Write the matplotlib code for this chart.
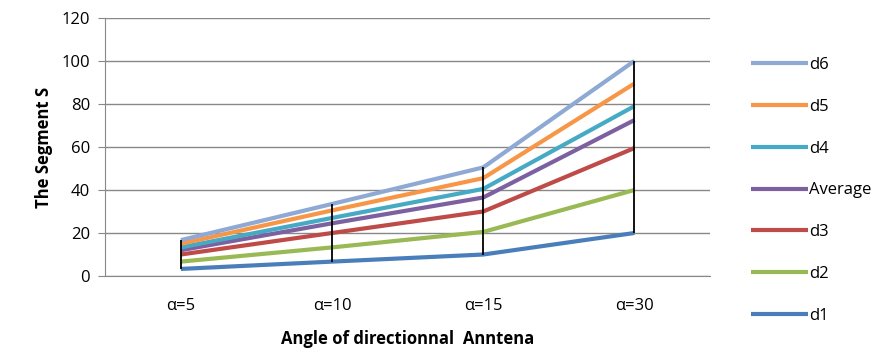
import matplotlib.pyplot as plt

# Данные
categories = ['α=5', 'α=10', 'α=15', 'α=30']
d1 = [3.3, 6.7, 10, 20]
d2 = [6.7, 13.3, 20.5, 40]
d3 = [10, 20, 30, 59.5]
average = [12, 24.5, 36.5, 72.5]
d4 = [13.3, 27, 40.5, 79]
d5 = [15, 30.5, 45.5, 89.5]
d6 = [16.7, 33.5, 50.5, 100]

series = [
    ('d1', d1, '#4A7EBB'),
    ('d2', d2, '#98B954'),
    ('d3', d3, '#BE4B48'),
    ('Average', average, '#7D60A0'),
    ('d4', d4, '#46AAC5'),
    ('d5', d5, '#F79646'),
    ('d6', d6, '#8EA9D3'),
]

plt.rcParams['font.family'] = ['Open Sans', 'DejaVu Sans']

fig = plt.figure(figsize=(8.92, 3.58), dpi=100)
ax = fig.add_axes([0.118, 0.229, 0.678, 0.721])

x = range(len(categories))
handles = []
for name, vals, color in series:
    h, = ax.plot(x, vals, color=color, lw=3, label=name, solid_capstyle='butt')
    handles.append(h)

# Линии максимум-минимум
lows = [min(v) for v in zip(*[s[1] for s in series])]
highs = [max(v) for v in zip(*[s[1] for s in series])]
ax.vlines(x, lows, highs, color='black', lw=1.3, zorder=5)

ax.set_xlim(-0.5, 3.5)
ax.set_ylim(0, 120)
ax.set_yticks(range(0, 121, 20))
ax.set_xticks(list(x))
ax.set_xticklabels(categories, fontsize=12)
ax.tick_params(axis='y', labelsize=12, length=5, color='#888888', pad=6)
ax.tick_params(axis='x', length=0, pad=16)
ax.grid(axis='y', color='#888888', lw=1)
ax.set_axisbelow(True)
for s in ['top', 'right']:
    ax.spines[s].set_visible(False)
ax.spines['left'].set_color('#888888')
ax.spines['bottom'].set_color('#888888')

ax.set_ylabel('The Segment S', fontsize=12, fontweight='bold', labelpad=6)
ax.set_xlabel('Angle of directionnal  Anntena', fontsize=12, fontweight='bold', labelpad=11)

fig.legend(handles[::-1], [h.get_label() for h in handles[::-1]],
           loc='center left', bbox_to_anchor=(0.825, 0.468), frameon=False,
           fontsize=12, labelspacing=1.55, handlelength=3.4, handletextpad=0.1)

fig.savefig('out.png', dpi=100)
